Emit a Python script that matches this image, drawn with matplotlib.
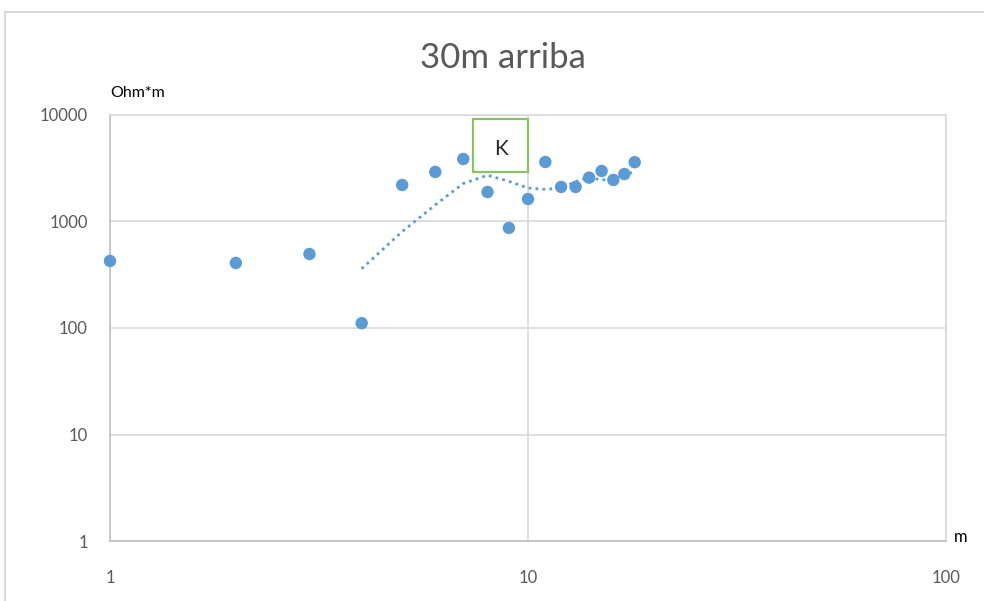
import matplotlib
matplotlib.use("Agg")
import matplotlib.pyplot as plt
import numpy as np
import pandas as pd
from matplotlib.patches import Rectangle
from matplotlib.lines import Line2D

# Apparent resistivity sounding data
spacing_m = [1, 2, 3, 4, 5, 6, 7, 8, 9, 10, 11, 12, 13, 14, 15, 16, 17, 18]
resistivity = [426, 408, 495, 111, 2200, 2920, 3860, 1890, 870, 1625,
               3620, 2110, 2110, 2580, 2980, 2455, 2790, 3600]

x_ticks = [1, 10, 100]
x_tick_labels = ["1", "10", "100"]
y_ticks = [1, 10, 100, 1000, 10000]
y_tick_labels = ["1", "10", "100", "1000", "10000"]

title_text = "30m arriba"
y_unit = "Ohm*m"
x_unit = "m"
box_label = "K"

# 4-point moving-average trendline
trend = pd.Series(resistivity).rolling(4).mean()

plt.rcParams["font.family"] = ["Lato", "DejaVu Sans"]

fig = plt.figure(figsize=(9.84, 6.01), dpi=100)
ax = fig.add_axes([0.1118, 0.0998, 0.8496, 0.7089])

ax.set_xscale("log")
ax.set_yscale("log")
ax.set_xlim(1, 100)
ax.set_ylim(1, 10000)

grid_c = "#d9d9d9"
ax.set_xticks(x_ticks)
ax.set_xticklabels(x_tick_labels)
ax.set_yticks(y_ticks)
ax.set_yticklabels(y_tick_labels)
ax.xaxis.set_minor_locator(matplotlib.ticker.NullLocator())
ax.yaxis.set_minor_locator(matplotlib.ticker.NullLocator())
ax.tick_params(axis="both", length=0, labelsize=12, labelcolor="#595959")
ax.tick_params(axis="x", pad=21)
ax.tick_params(axis="y", pad=16)
ax.grid(True, color=grid_c, linewidth=1.2)
ax.set_axisbelow(True)
for side in ["left", "bottom"]:
    ax.spines[side].set_color("#bfbfbf")
    ax.spines[side].set_linewidth(1.2)
for side in ["top", "right"]:
    ax.spines[side].set_color(grid_c)
    ax.spines[side].set_linewidth(1.2)

blue = "#5b9bd5"
ax.plot(spacing_m, trend, linestyle=(0, (1, 1.5)), color=blue, linewidth=2.0,
        zorder=2)
ax.scatter(spacing_m, resistivity, s=80, color=blue, edgecolors="none",
           zorder=3, clip_on=False)

# Labelled box marking the curve type
ax.add_patch(Rectangle((0.4343, 0.9906), 0.0658, -0.1244,
                       transform=ax.transAxes, fill=True, facecolor="white",
                       edgecolor="#8cc168", linewidth=1.6, zorder=4,
                       clip_on=False))
ax.text(0.4672, 0.919, box_label, transform=ax.transAxes, ha="center",
        va="center", fontsize=15, color="#262626", zorder=5)

fig.text(0.511, 0.903, title_text, ha="center", va="center", fontsize=25,
         color="#595959")
fig.text(0.112, 0.845, y_unit, ha="left", va="center", fontsize=11.5,
         color="black")
fig.text(0.969, 0.107, x_unit, ha="left", va="center", fontsize=12,
         color="black")

# Chart frame
fig.add_artist(Line2D([0.005, 0.005], [0.0, 0.98], transform=fig.transFigure,
                      color="#d9d9d9", linewidth=1.5))
fig.add_artist(Line2D([0.005, 1.0], [0.98, 0.98], transform=fig.transFigure,
                      color="#d9d9d9", linewidth=1.5))

fig.savefig("out.png", dpi=100, facecolor="white")
